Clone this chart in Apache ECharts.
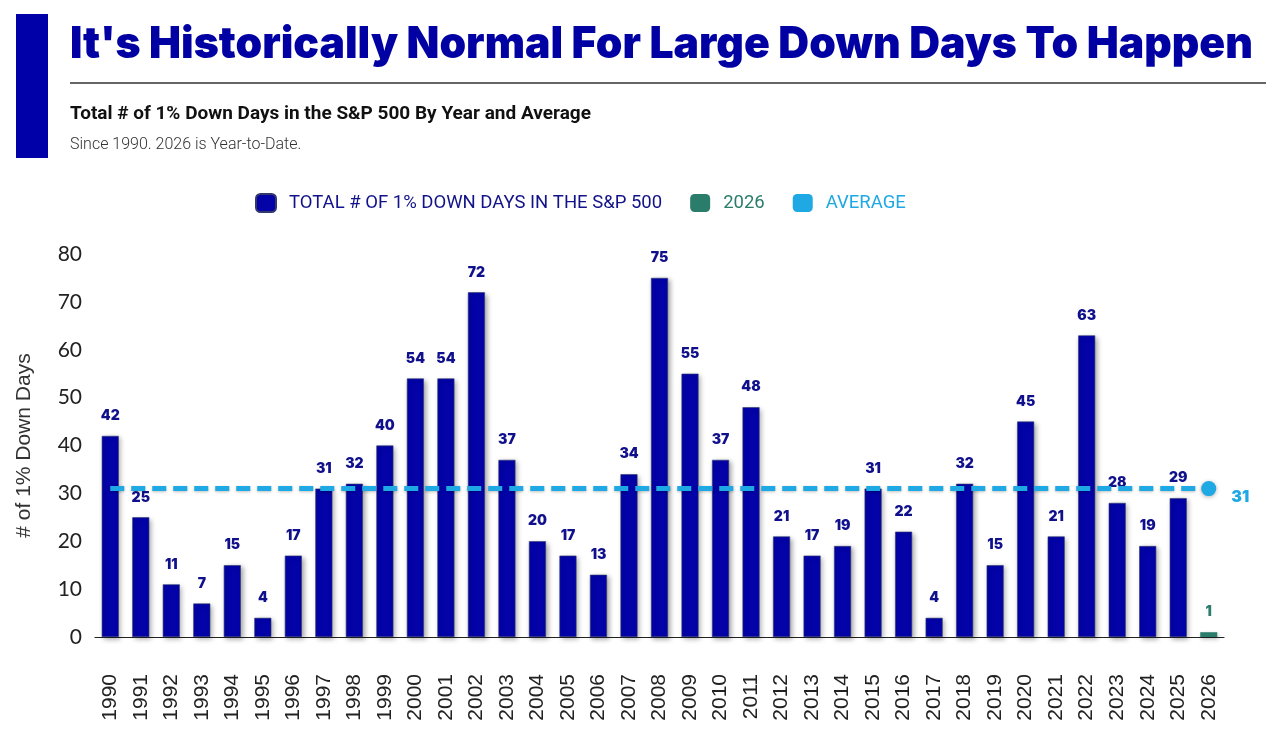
<!DOCTYPE html>
<html>
<head>
<meta charset="utf-8">
<script src="https://cdn.jsdelivr.net/npm/echarts@6/dist/echarts.min.js"></script>
<style>
html,body{margin:0;padding:0;background:#fff;}
#chart{width:1280px;height:745px;}
</style>
</head>
<body>
<div id="chart"></div>
<script>
var years = ['1990','1991','1992','1993','1994','1995','1996','1997','1998','1999','2000','2001','2002','2003','2004','2005','2006','2007','2008','2009','2010','2011','2012','2013','2014','2015','2016','2017','2018','2019','2020','2021','2022','2023','2024','2025','2026'];
var downDays = [42,25,11,7,15,4,17,31,32,40,54,54,72,37,20,17,13,34,75,55,37,48,21,17,19,31,22,4,32,15,45,21,63,28,19,29];
var ytd2026 = 1;
var averageValue = 31;
var yTicks = [0,10,20,30,40,50,60,70,80];

var BLUE = '#0303a8';
var GREEN = '#2b7d6b';
var CYAN = '#1ea8e4';
var TITLE = "It's Historically Normal For Large Down Days To Happen";

var mainData = years.map(function(y, i){ return i < downDays.length ? downDays[i] : null; });
var ytdData = years.map(function(y){ return y === '2026' ? ytd2026 : null; });

function fitScale(text, font, width){
  var c = document.createElement('canvas').getContext('2d');
  c.font = font;
  return width / c.measureText(text).width;
}
var titleFont = '900 44px Inter';
var titleScale = fitScale(TITLE, titleFont, 1183);

var chart = echarts.init(document.getElementById('chart'));
chart.setOption({
  animation: false,
  backgroundColor: '#fff',
  graphic: [
    {type:'rect', shape:{x:16,y:14,width:32,height:144}, style:{fill:'#0000a8'}},
    {type:'text', x:70, y:45, scaleX:titleScale, style:{text:TITLE, font:titleFont, fill:'#0000a3', verticalAlign:'middle'}},
    {type:'line', shape:{x1:70,y1:83,x2:1266,y2:83}, style:{stroke:'#333',lineWidth:1.5}},
    {type:'text', x:70, y:114, style:{text:'Total # of 1% Down Days in the S&P 500 By Year and Average', font:'bold 19px Roboto', fill:'#111', verticalAlign:'middle'}},
    {type:'text', x:70, y:145, style:{text:'Since 1990. 2026 is Year-to-Date.', font:'300 16px Roboto', fill:'#333', verticalAlign:'middle'}}
  ],
  legend: {
    left: 250, top: 188,
    itemWidth: 20, itemHeight: 18, itemGap: 28,
    icon: 'roundRect',
    textStyle: {fontFamily:'Roboto', fontSize:18.5, padding:[0,0,0,8]},
    data: [
      {name:'TOTAL # OF 1% DOWN DAYS IN THE S&P 500', itemStyle:{color:BLUE}, textStyle:{color:'#12128a'}},
      {name:'2026', itemStyle:{color:GREEN}, textStyle:{color:GREEN}},
      {name:'AVERAGE', itemStyle:{color:CYAN}, textStyle:{color:CYAN}}
    ]
  },
  grid: {left:95, right:56, top:254, bottom:108, containLabel:false},
  xAxis: {
    type:'category', data: years,
    axisLine:{lineStyle:{color:'#222', width:1.2}},
    axisTick:{show:false},
    axisLabel:{rotate:90, fontFamily:'Liberation Sans', fontSize:21, color:'#222', margin:37, interval:0}
  },
  yAxis: {
    type:'value', min:0, max:80, interval:10,
    name:'# of 1% Down Days', nameLocation:'middle', nameGap:60, nameRotate:90,
    nameTextStyle:{fontFamily:'Liberation Sans', fontSize:21, color:'#333'},
    axisLine:{show:false}, axisTick:{show:false}, splitLine:{show:false},
    axisLabel:{fontFamily:'Lato', fontSize:21, color:'#222', margin:13,
      formatter:function(v){ return yTicks.indexOf(v) >= 0 ? String(v) : ''; }}
  },
  series: [
    {
      name:'TOTAL # OF 1% DOWN DAYS IN THE S&P 500', type:'bar', stack:'y', data: mainData, barWidth:17,
      itemStyle:{color:BLUE, borderColor:'#333a6a', borderWidth:0.6, shadowBlur:5, shadowColor:'rgba(0,0,0,0.35)', shadowOffsetX:2, shadowOffsetY:2},
      label:{show:true, position:'top', distance:13, fontFamily:'Inter', fontWeight:900, fontSize:14, color:'#10108c'}
    },
    {
      name:'2026', type:'bar', stack:'y', data: ytdData, barWidth:17,
      itemStyle:{color:GREEN, shadowBlur:4, shadowColor:'rgba(0,0,0,0.3)', shadowOffsetX:1, shadowOffsetY:2},
      label:{show:true, position:'top', distance:13, fontFamily:'Inter', fontWeight:900, fontSize:14, color:GREEN}
    },
    {
      name:'AVERAGE', type:'line', data:[], itemStyle:{color:CYAN},
      markLine:{
        silent:true, symbol:['none','none'],
        lineStyle:{color:CYAN, type:[14,7], width:5, shadowBlur:3, shadowColor:'rgba(0,0,0,0.25)', shadowOffsetY:1},
        label:{show:false},
        data:[[{coord:['1990', averageValue]}, {coord:['2026', averageValue]}]]
      },
      markPoint:{
        silent:true, symbol:'circle', symbolSize:15,
        itemStyle:{color:CYAN, shadowBlur:4, shadowColor:'rgba(0,0,0,0.3)', shadowOffsetY:1},
        label:{show:true, position:'right', offset:[10,9], formatter:String(averageValue), fontFamily:'Inter', fontWeight:900, fontSize:16, color:CYAN},
        data:[{coord:['2026', averageValue]}]
      }
    }
  ]
});
</script>
</body>
</html>
